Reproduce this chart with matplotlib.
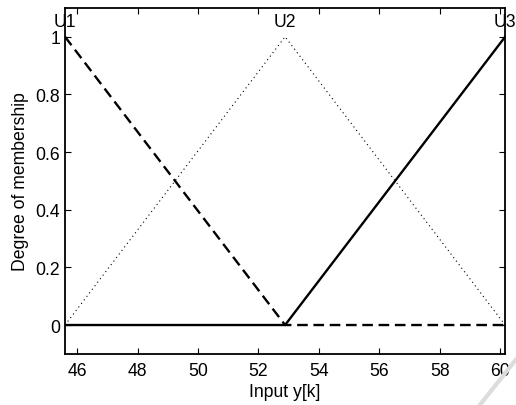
import matplotlib.pyplot as plt
from matplotlib.lines import Line2D

plt.rcParams['font.family'] = ['Liberation Sans', 'DejaVu Sans']

# centres of the three membership functions
centres = [45.6, 52.885, 60.17]
names = ['U1', 'U2', 'U3']

# membership values at the centres, one list per function
mf_u1 = [1, 0, 0]
mf_u2 = [0, 1, 0]
mf_u3 = [0, 0, 1]

xticks = [46, 48, 50, 52, 54, 56, 58, 60]
yticks = [0, 0.2, 0.4, 0.6, 0.8, 1]

fs = 12.7

fig = plt.figure(figsize=(5.16, 4.06), dpi=100)
ax = fig.add_axes([0.126, 0.126, 0.853, 0.852])

ax.plot(centres, mf_u1, color='black', ls=(0, (4.5, 2.4)), lw=1.7)
ax.plot(centres, mf_u2, color='black', ls=(0, (1, 3)), lw=0.8)
ax.plot(centres, mf_u3, color='black', ls='-', lw=1.7)

# labels above each peak
for c, n in zip(centres, names):
    ax.text(c, 1.053, n, ha='center', va='center', fontsize=fs)

ax.set_xlim(centres[0], centres[-1])
ax.set_ylim(-0.1, 1.1)
ax.set_xticks(xticks)
ax.set_yticks(yticks)
ax.set_yticklabels(['0', '0.2', '0.4', '0.6', '0.8', '1'])
ax.tick_params(direction='in', top=True, right=True, labelsize=fs, length=4, width=0.8, pad=3.5)
ax.tick_params(axis='x', pad=6)
for s in ax.spines.values():
    s.set_linewidth(1.3)

ax.set_xlabel('Input y[k]', fontsize=fs, labelpad=3)
ax.set_ylabel('Degree of membership', fontsize=fs, labelpad=5)

# faint diagonal streak in the corner
fig.add_artist(Line2D([0.93, 1.0], [0.0, 0.112], color='#dcdcdc', lw=3, transform=fig.transFigure))

fig.savefig('out.png', dpi=100)
